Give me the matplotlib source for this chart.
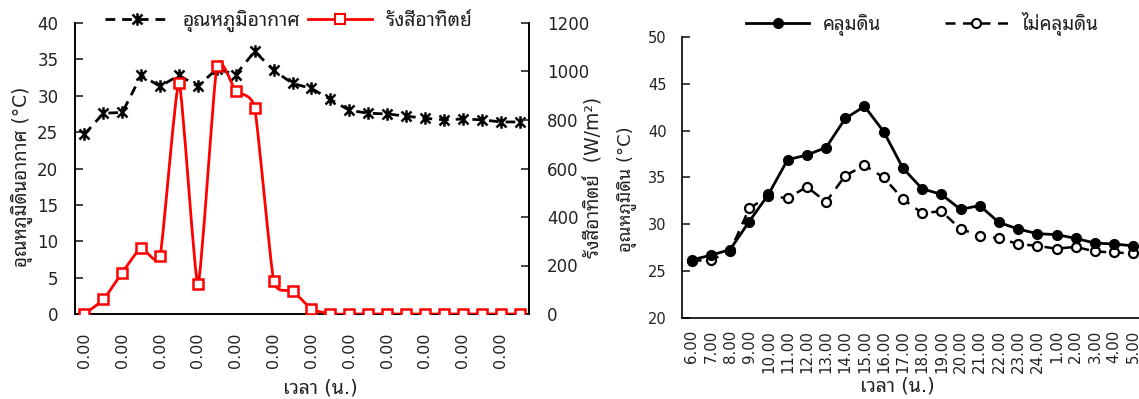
import numpy as np
import matplotlib
matplotlib.use("Agg")
import matplotlib.pyplot as plt
from matplotlib.path import Path
from matplotlib.patches import PathPatch
from matplotlib.lines import Line2D

# ---------------- data ----------------
left_xlabels = ["0.00"] * 12
air_temp = [24.7, 27.6, 27.7, 32.8, 31.3, 32.8, 31.3, 33.7, 32.9, 36.1, 33.5, 31.7,
            31.0, 29.5, 28.0, 27.6, 27.5, 27.2, 26.9, 26.7, 26.8, 26.7, 26.4, 26.4]
solar = [0, 60, 171, 273, 240, 954, 123, 1023, 918, 849, 138, 96,
         21, 0, 0, 0, 0, 0, 0, 0, 0, 0, 0, 0]

right_xlabels = ["6.00", "7.00", "8.00", "9.00", "10.00", "11.00", "12.00", "13.00",
                 "14.00", "15.00", "16.00", "17.00", "18.00", "19.00", "20.00", "21.00",
                 "22.00", "23.00", "24.00", "1.00", "2.00", "3.00", "4.00", "5.00"]
covered = [26.2, 26.7, 27.3, 30.3, 33.2, 36.9, 37.4, 38.2, 41.3, 42.6, 39.9, 36.0,
           33.8, 33.2, 31.6, 32.0, 30.2, 29.5, 29.0, 28.9, 28.5, 28.0, 27.9, 27.7]
uncovered = [26.1, 26.2, 27.1, 31.7, 33.0, 32.8, 34.0, 32.4, 35.2, 36.3, 35.0, 32.7,
             31.2, 31.4, 29.5, 28.8, 28.5, 27.9, 27.7, 27.4, 27.6, 27.1, 27.0, 26.9]

# ---------------- font ----------------
plt.rcParams["font.family"] = ["DejaVu Sans", "Noto Sans Thai Looped", "Noto Sans Thai", "Loma"]
plt.rcParams["axes.unicode_minus"] = False
TXT = "#222222"

W, H = 1139, 399
fig = plt.figure(figsize=(W / 100, H / 100), dpi=100)

def fx(px):
    return px / W

def fy(py):
    return 1 - py / H

# ---------------- left panel ----------------
ax = fig.add_axes([fx(75), fy(314), fx(529 - 75), fy(23) - fy(314)])
ax2 = ax.twinx()
n = len(air_temp)
x = np.arange(n)

star = Path([(-1, -1), (1, 1), (-1, 1), (1, -1), (0, -1.25), (0, 1.25)],
            [Path.MOVETO, Path.LINETO, Path.MOVETO, Path.LINETO, Path.MOVETO, Path.LINETO])

ax.plot(x, air_temp, color="black", lw=2, ls=(0, (3.5, 2.5)), marker=star,
        markersize=9, markeredgewidth=1.8, markeredgecolor="black", zorder=3)
ax.set_ylim(0, 40)
ax.set_yticks(np.arange(0, 41, 5))
ax.set_xlim(-0.5, n - 0.5)
ax.set_xticks(x[::2])
ax.set_xticklabels(left_xlabels, rotation=90)

# smooth curve for solar radiation (Bezier through the data points)
k = 0.5
ys = np.asarray(solar, float)
verts = [(x[0], ys[0])]
codes = [Path.MOVETO]
for i in range(n - 1):
    p0 = np.array([x[max(i - 1, 0)], ys[max(i - 1, 0)]])
    p1 = np.array([x[i], ys[i]])
    p2 = np.array([x[i + 1], ys[i + 1]])
    p3 = np.array([x[min(i + 2, n - 1)], ys[min(i + 2, n - 1)]])
    c1 = p1 + k * (p2 - p0) / 6
    c2 = p2 - k * (p3 - p1) / 6
    verts += [tuple(c1), tuple(c2), tuple(p2)]
    codes += [Path.CURVE4] * 3
ax2.add_patch(PathPatch(Path(verts, codes), fill=False, edgecolor="#ff0000", lw=2, zorder=3))
ax2.plot(x, solar, ls="none", marker="s", markersize=7, markerfacecolor="white",
         markeredgecolor="#ff0000", markeredgewidth=1.8, zorder=4)
ax2.set_ylim(0, 1200)
ax2.set_yticks(np.arange(0, 1201, 200))

for a in (ax, ax2):
    a.spines["top"].set_visible(False)
    a.tick_params(axis="y", direction="in", length=6, width=1.2, labelsize=12, colors=TXT)
    a.tick_params(axis="x", length=0, labelsize=11.5, colors=TXT)
ax.tick_params(axis="y", pad=12)
ax2.tick_params(axis="y", pad=13)
ax.tick_params(axis="x", pad=13)
for s in ("left", "bottom", "right"):
    ax2.spines[s].set_linewidth(1.2)
    ax.spines[s].set_linewidth(1.2)

ax.set_ylabel("อุณหภูมิดินอากาศ (°C)", fontsize=13.5, color=TXT)
ax.yaxis.set_label_coords((33 - 75) / 454, 0.47)
ax2.set_ylabel("รังสีอาทิตย์  (W/m²)", fontsize=13.5, color=TXT, rotation=90)
ax2.yaxis.set_label_coords((584 - 75) / 454, 0.47)
ax.set_xlabel("เวลา (น.)", fontsize=14, color=TXT)
ax.xaxis.set_label_coords((320 - 75) / 454, (314 - 378) / 291)

h1 = Line2D([], [], color="black", lw=2, ls=(0, (3.5, 2.5)), marker=star, markersize=9,
            markeredgewidth=1.8)
h2 = Line2D([], [], color="#ff0000", lw=2, marker="s", markersize=7,
            markerfacecolor="white", markeredgecolor="#ff0000", markeredgewidth=1.5)
ax2.legend([h1, h2], ["อุณหภูมิอากาศ", "รังสีอาทิตย์"], loc="center",
           bbox_to_anchor=((289 - 75) / 454, (314 - 21) / 291), ncol=2, frameon=False,
           fontsize=14, handlelength=3.3, columnspacing=0.4, handletextpad=0.7,
           labelcolor=TXT)

# ---------------- right panel ----------------
bx = fig.add_axes([fx(682), fy(318), fx(1143 - 682), fy(37) - fy(318)])
xr = np.arange(len(covered))
bx.plot(xr, uncovered, color="black", lw=1.8, ls=(0, (4, 3)), marker="o", markersize=6.5,
        markerfacecolor="white", markeredgecolor="black", markeredgewidth=1.6, zorder=3)
bx.plot(xr, covered, color="black", lw=2, marker="o", markersize=7, zorder=4)
bx.set_ylim(20, 50)
bx.set_yticks(np.arange(20, 51, 5))
bx.set_xlim(-0.5, len(covered) - 0.5)
bx.set_xticks(xr)
bx.set_xticklabels(right_xlabels, rotation=90)
bx.spines["top"].set_visible(False)
bx.spines["right"].set_visible(False)
bx.spines["left"].set_linewidth(1.2)
bx.spines["bottom"].set_linewidth(1.2)
bx.tick_params(axis="y", direction="in", length=6, width=1.2, labelsize=10.5, pad=11,
               colors=TXT)
bx.tick_params(axis="x", length=0, labelsize=10.8, pad=8.5, colors=TXT)
bx.set_ylabel("อุณหภูมิดิน (°C)", fontsize=13, color=TXT)
bx.yaxis.set_label_coords((637 - 682) / 461, 0.46)
bx.set_xlabel("เวลา (น.)", fontsize=14, color=TXT)
bx.xaxis.set_label_coords((897 - 682) / 461, (318 - 376) / 281)

g1 = Line2D([], [], color="black", lw=2, marker="o", markersize=7)
g2 = Line2D([], [], color="black", lw=1.8, ls=(0, (4, 3)), marker="o", markersize=6.5,
            markerfacecolor="white", markeredgewidth=1.5)
bx.legend([g1, g2], ["คลุมดิน", "ไม่คลุมดิน"], loc="center",
          bbox_to_anchor=((922 - 682) / 461, (318 - 24) / 281), ncol=2, frameon=False,
          fontsize=13.5, handlelength=3.4, columnspacing=3.4, handletextpad=0.7,
          labelcolor=TXT)

fig.savefig("out.png", dpi=100)
